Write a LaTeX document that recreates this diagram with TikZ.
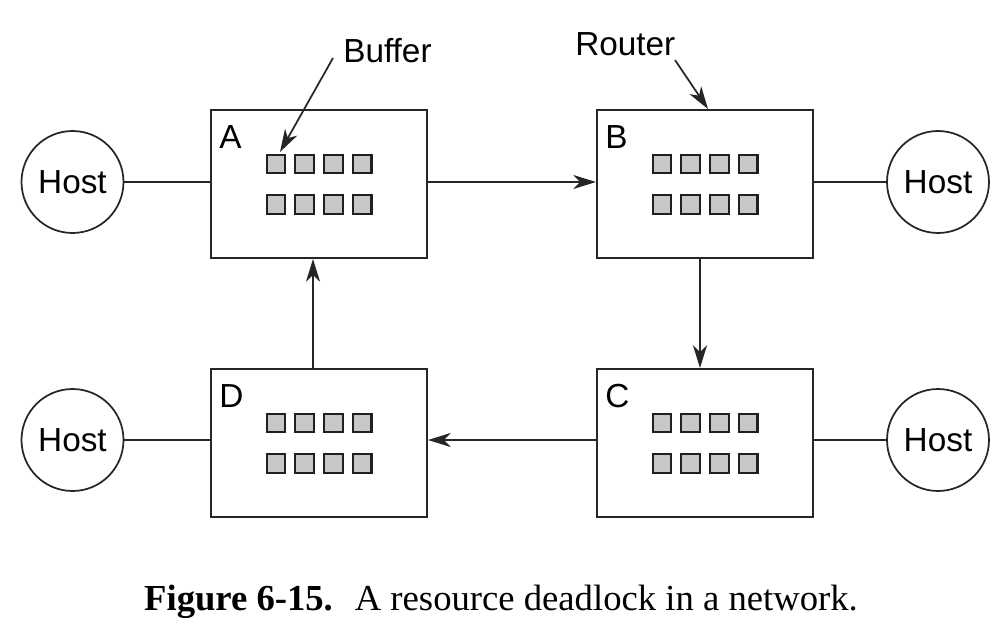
\documentclass[tikz,border=0pt]{standalone}
\usepackage{fontspec}
\setmainfont{Liberation Serif}
\newfontfamily\lab{Liberation Sans}
\usetikzlibrary{arrows.meta}
\begin{document}
\begin{tikzpicture}[x=0.75pt,y=-0.75pt,
  router/.style={draw=black!85,line width=1.5pt,minimum width=162pt,minimum height=111pt,inner sep=0pt},
  host/.style={circle,draw=black!85,line width=1.3pt,minimum size=76.5pt,inner sep=0pt,font=\lab\fontsize{25}{28}\selectfont},
  buf/.style={draw=black!88,fill=black!22,line width=1.6pt,minimum size=14pt,inner sep=0pt},
  lbl/.style={font=\lab\fontsize{25}{28}\selectfont,inner sep=0pt,anchor=base west},
  link/.style={line width=1.3pt,draw=black!85},
  arr/.style={link,-{Stealth[length=17pt,width=10.5pt,inset=5pt]}}]
\useasboundingbox (0,0) rectangle (997,643);
% routers
\node[router] (A) at (319,184) {};
\node[router] (B) at (705,184) {};
\node[router] (C) at (705,443) {};
\node[router] (D) at (319,443) {};
\foreach \r/\cx/\cy in {A/319/184,B/705/184,C/705/443,D/319/443}{
  \node[lbl] (\r lab) at (\cx-100,\cy-36) {\r};
  \foreach \i in {1,...,4}{
    \node[buf] (\r u\i) at (\cx-43+28.7*\i-28.7,\cy-20) {};
    \node[buf] (\r d\i) at (\cx-43+28.7*\i-28.7,\cy+20.5) {};
  }
}
% hosts
\node[host] (HA) at (72.5,182) {Host};
\node[host] (HB) at (938,182) {Host};
\node[host] (HC) at (938,440) {Host};
\node[host] (HD) at (72.5,440) {Host};
% links
\draw[link] (HA.east) -- (HA.east -| A.west);
\draw[link] (HB.west) -- (HB.west -| B.east);
\draw[link] (HC.west) -- (HC.west -| C.east);
\draw[link] (HD.east) -- (HD.east -| D.west);
\draw[arr] (A.east |- HA.east) -- (B.west |- HA.east);
\draw[arr] (B.south -| 700,0) -- (C.north -| 700,0);
\draw[arr] (C.west |- HC.west) -- (D.east |- HC.west);
\draw[arr] (D.north -| 313,0) -- (A.south -| 313,0);
% labels
\node[lbl] (buffer) at (343,62) {Buffer};
\node[lbl] (router) at (575,55) {Router};
\coordinate (bs) at (333,58);
\coordinate (bt) at (280,152);
\coordinate (rs) at (675,60);
\coordinate (rt) at (708,109);
\draw[arr] (bs) -- (bt);
\draw[arr] (rs) -- (rt);
% caption
\node[inner sep=0pt,anchor=base,font=\fontsize{27.5}{32}\selectfont] (cap) at (501,610)
  {\textbf{Figure 6-15.}\hspace{0.6em}A resource deadlock in a network.};
\end{tikzpicture}
\end{document}
